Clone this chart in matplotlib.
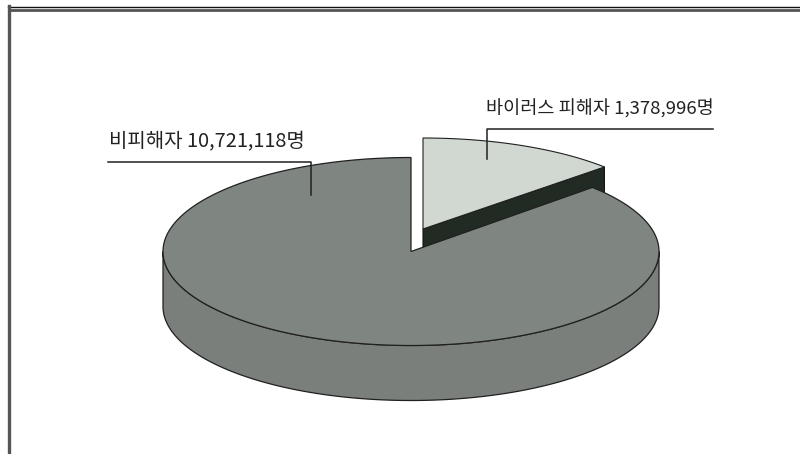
import numpy as np
import matplotlib
matplotlib.use('Agg')
import matplotlib.pyplot as plt
from matplotlib.patches import Polygon

plt.rcParams['font.family'] = ['Noto Sans CJK KR', 'DejaVu Sans']

labels = ['비피해자 10,721,118명', '바이러스 피해자 1,378,996명']
values = [10721118, 1378996]

# the old 3D pie stretches the angles a little
view_skew = 1.146
a, b, depth = 248, 94, 55
cx, cy = 411, 251.5
sx, sy, sb, sdepth = 423, 229, 91, 55
colors = ['#7f8581', '#d1d7d1']
side_colors = ['#7a7f7b', '#222a24']


def rim(x0, y0, ry, t0, t1, n=200):
    # t is clockwise from 12 o'clock, in degrees
    t = np.radians(np.linspace(t0, t1, n))
    return np.column_stack([x0 + a * np.sin(t), y0 - ry * np.cos(t)])


sweep = 360 * values[1] / sum(values) * view_skew

fig = plt.figure(figsize=(8, 4.54), dpi=100, facecolor='w')
ax = fig.add_axes([0, 0, 1, 1])
ax.set_xlim(0, 800)
ax.set_ylim(454, 0)
ax.axis('off')

# small slice, pulled out
top_s = rim(sx, sy, sb, 0, sweep)
tip = top_s[-1]
side_s = np.array([[sx, sy], tip, tip + [0, sdepth], [sx, sy + sdepth]])
ax.add_patch(Polygon(side_s, fc=side_colors[1], ec='#101510', lw=0.8, zorder=1))
ax.add_patch(Polygon(np.vstack([[sx, sy], top_s]), fc=colors[1], ec='#202020', lw=0.8, zorder=2))

# big slice: wall first, then top face
front = rim(cx, cy, b, 90, 270)
wall = np.vstack([front, (front + [0, depth])[::-1]])
ax.add_patch(Polygon(wall, fc=side_colors[0], ec='#202020', lw=0.9, zorder=3))
top_m = rim(cx, cy, b, sweep, 360, 400)
ax.add_patch(Polygon(np.vstack([[cx, cy], top_m]), fc=colors[0], ec='#202020', lw=0.9, zorder=4))

# leader lines
ax.plot([108, 311, 311], [162, 162, 195], color='#202020', lw=1.1, zorder=5)
ax.plot([713, 487, 487], [129, 129, 159], color='#202020', lw=1.1, zorder=5)
ax.text(109, 141, labels[0], fontsize=14.4, color='#222222', va='center', ha='left', zorder=6)
ax.text(486, 109, labels[1], fontsize=13.4, color='#222222', va='center', ha='left', zorder=6)

# window frame, top and left only
ax.plot([8, 800], [6.5, 6.5], color='#111111', lw=1.0, zorder=7)
ax.plot([9, 800], [10, 10], color='#555555', lw=2.0, zorder=7)
ax.plot([9, 9], [6, 454], color='#555555', lw=2.4, zorder=7)

fig.savefig('out.png', dpi=100)
